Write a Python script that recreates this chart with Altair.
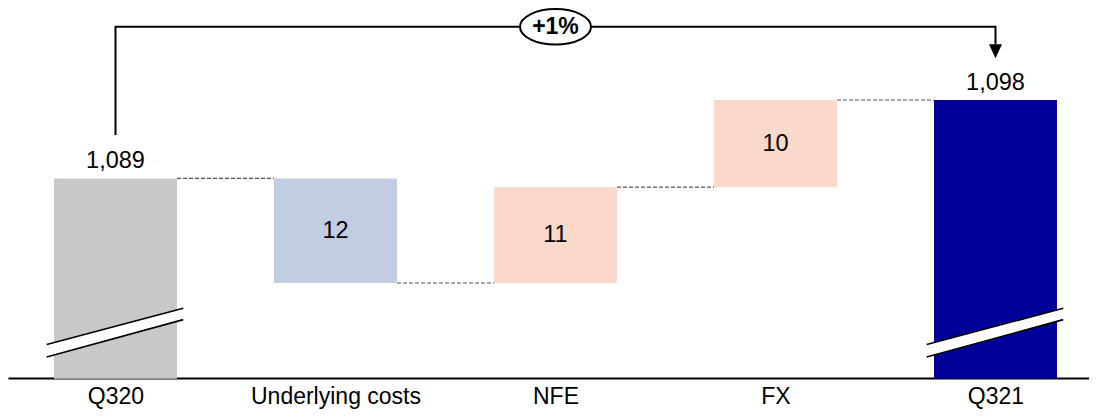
import altair as alt
import pandas as pd

# ---- data ----
categories = ["Q320", "Underlying costs", "NFE", "FX", "Q321"]
values = [1089, -12, 11, 10, 1098]
kinds = ["total", "decrease", "increase", "increase", "total"]
value_labels = ["1,089", "12", "11", "10", "1,098"]
change_label = "+1%"
axis_floor = 1066

colors = {"total_start": "#C9C7C8", "decrease": "#C3CDE1",
          "increase": "#FAD9CB", "total_end": "#000099"}

FONT = "Liberation Sans"
FS = 23.5
HALF = 0.2795  # half bar width in category units
W = 1081
X_DOM = [-0.4886, -0.4886 + W / 220]
Y_DOM = [1066.1, 1108.56]

# ---- derived tables ----
rows = []
running = 0
for i, (c, v, k, lab) in enumerate(zip(categories, values, kinds, value_labels)):
    if k == "total":
        start, end = axis_floor, v
        running = v
        col = colors["total_start"] if i == 0 else colors["total_end"]
    else:
        start, end = running, running + v
        running = end
        col = colors[k]
    rows.append(dict(idx=i, cat=c, x0=i - HALF, x1=i + HALF, start=start, end=end,
                     lo=min(start, end), hi=max(start, end), mid=(start + end) / 2,
                     label=lab, kind=k, color=col))
bars = pd.DataFrame(rows)

conn = pd.DataFrame([dict(x0=i + HALF, x1=i + 1 - HALF, y=rows[i]["end"])
                     for i in range(len(rows) - 1)])

x = alt.X("x0:Q", scale=alt.Scale(domain=X_DOM, nice=False, zero=False),
          axis=alt.Axis(values=list(range(len(categories))), grid=False, ticks=False,
                        labelExpr=f"{categories}[datum.value]",
                        labelFont=FONT, labelFontSize=23, labelColor="#000000",
                        labelPadding=7, domainColor="#000000", domainWidth=2,
                        title=None))
y_scale = alt.Scale(domain=Y_DOM, nice=False, zero=False)
y = alt.Y("lo:Q", scale=y_scale, axis=None)

base = alt.Chart(bars)
bar_layer = base.mark_rect().encode(
    x=x, x2="x1:Q", y=y, y2="hi:Q", color=alt.Color("color:N", scale=None))

tot = base.transform_filter("datum.kind == 'total'").mark_text(
    font=FONT, fontSize=FS, baseline="bottom", dy=-5, color="#000000").encode(
    x=alt.X("idx:Q"), y=alt.Y("hi:Q"), text="label:N")
delta = base.transform_filter("datum.kind != 'total'").mark_text(
    font=FONT, fontSize=FS, baseline="middle", color="#000000").encode(
    x=alt.X("idx:Q"), y=alt.Y("mid:Q"), text="label:N")

conn_layer = alt.Chart(conn).mark_rule(color="#555555", strokeDash=[4, 2], strokeWidth=1.2).encode(
    x="x0:Q", x2="x1:Q", y="y:Q")

# break marks on total bars
brk_rows = []
for i, r in enumerate(rows):
    if r["kind"] == "total":
        for t, lower, upper in [(-0.3127, 1068.6, 1070.05), (0.308, 1072.9, 1074.2)]:
            brk_rows.append(dict(g=i, bx=i + t, blo=axis_floor + (lower - 1066.1),
                                 bhi=axis_floor + (upper - 1066.1)))
brk = pd.DataFrame(brk_rows)
brk_area = alt.Chart(brk).mark_area(color="white", opacity=1).encode(
    x="bx:Q", y="blo:Q", y2="bhi:Q", detail="g:N")
brk_lo = alt.Chart(brk).mark_line(color="#000000", strokeWidth=1.6).encode(
    x="bx:Q", y="blo:Q", detail="g:N")
brk_hi = alt.Chart(brk).mark_line(color="#000000", strokeWidth=1.6).encode(
    x="bx:Q", y="bhi:Q", detail="g:N")

# bracket with percentage change
first, last = rows[0], rows[-1]
bracket_y = last["end"] + 8.4
bracket = pd.DataFrame([
    dict(o=0, bx=0, by=first["end"] + 4.98),
    dict(o=1, bx=0, by=bracket_y),
    dict(o=2, bx=len(rows) - 1, by=bracket_y),
    dict(o=3, bx=len(rows) - 1, by=last["end"] + 6.4),
])
bracket_layer = alt.Chart(bracket).mark_line(color="#000000", strokeWidth=2).encode(
    x="bx:Q", y="by:Q", order="o:Q")
arrow = alt.Chart(pd.DataFrame([dict(ax=len(rows) - 1, ay=last["end"] + 5.6)])).mark_point(
    shape="M-0.93,-1L0.93,-1L0,1Z", size=196, filled=True, color="#000000", opacity=1).encode(
    x="ax:Q", y="ay:Q")
mid_df = pd.DataFrame([dict(mx=(len(rows) - 1) / 2, my=bracket_y, t=change_label)])
ellipse = alt.Chart(mid_df).mark_point(
    shape="M-1,0A1,0.5,0,1,1,1,0A1,0.5,0,1,1,-1,0Z", size=71 * 71, filled=False,
    fill="white", fillOpacity=1, stroke="#000000", strokeWidth=2, opacity=1).encode(
    x="mx:Q", y="my:Q")
pct = alt.Chart(mid_df).mark_text(font=FONT, fontSize=23, fontWeight="bold",
                                  baseline="middle", color="#000000").encode(
    x="mx:Q", y="my:Q", text="t:N")

chart = alt.layer(bar_layer, conn_layer, brk_area, brk_lo, brk_hi, tot, delta,
                  bracket_layer, arrow, ellipse, pct).properties(
    width=W, height=370, autosize="none", background="white",
    padding={"left": 0, "right": 0, "top": 0, "bottom": 31},
).configure_view(strokeWidth=0, stroke="transparent")

chart.save("out.html", embed_options={"renderer": "svg", "actions": False})
